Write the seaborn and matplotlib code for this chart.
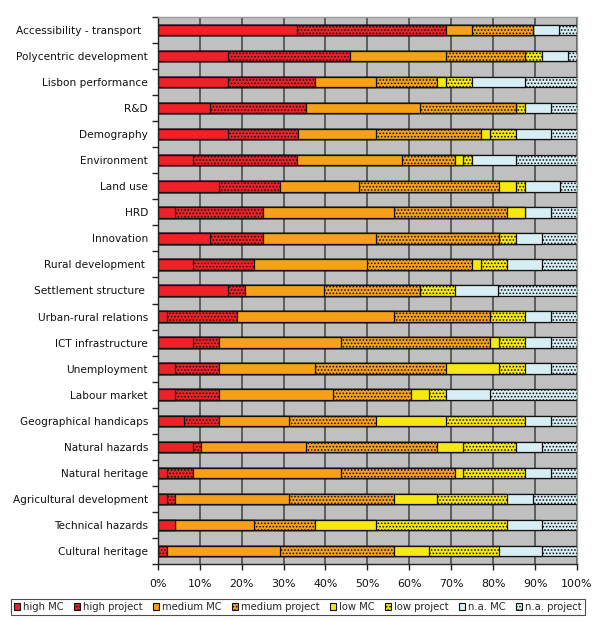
import numpy as np
import pandas as pd
import matplotlib
matplotlib.use("Agg")
import matplotlib.pyplot as plt
from matplotlib.patches import Patch
import seaborn as sns

categories = ["Accessibility - transport  ", "Polycentric development", "Lisbon performance",
              "R&D", "Demography", "Environment", "Land use", "HRD", "Innovation",
              "Rural development ", "Settlement structure ", "Urban-rural relations",
              "ICT infrastructure", "Unemployment", "Labour market", "Geographical handicaps",
              "Natural hazards", "Natural heritage", "Agricultural development",
              "Technical hazards", "Cultural heritage"]

series_names = ["high MC", "high project", "medium MC", "medium project",
                "low MC", "low project", "n.a. MC", "n.a. project"]

high_mc      = [33.3, 16.7, 16.7, 12.5, 16.7, 8.3, 14.6, 4.2, 12.5, 8.3, 16.7, 2.1, 8.3, 4.2, 4.2, 6.2, 8.3, 2.1, 2.1, 4.2, 0.0]
high_project = [35.4, 29.2, 20.8, 22.9, 16.7, 25.0, 14.6, 20.8, 12.5, 14.6, 4.2, 16.7, 6.3, 10.4, 10.4, 8.3, 2.1, 6.2, 2.1, 0.0, 2.1]
medium_mc    = [6.2, 22.9, 14.6, 27.1, 18.7, 25.0, 18.8, 31.3, 27.1, 27.1, 18.7, 37.5, 29.2, 22.9, 27.1, 16.7, 25.0, 35.4, 27.1, 18.7, 27.1]
medium_proj  = [14.6, 18.7, 14.6, 22.9, 25.0, 12.5, 33.3, 27.1, 29.2, 25.0, 22.9, 22.9, 35.4, 31.3, 18.7, 20.8, 31.3, 27.1, 25.0, 14.6, 27.1]
low_mc       = [0.0, 0.0, 2.1, 0.0, 2.1, 2.1, 4.2, 4.1, 0.0, 2.1, 0.0, 0.0, 2.1, 12.5, 4.2, 16.7, 6.2, 2.1, 10.4, 14.6, 8.3]
low_project  = [0.0, 4.2, 6.2, 2.1, 6.3, 2.1, 2.1, 0.0, 4.2, 6.2, 8.3, 8.3, 6.2, 6.2, 4.2, 18.8, 12.5, 14.6, 16.7, 31.3, 16.7]
na_mc        = [6.3, 6.2, 12.5, 6.2, 8.3, 10.4, 8.3, 6.2, 6.2, 8.4, 10.4, 6.2, 6.3, 6.3, 10.4, 6.2, 6.3, 6.3, 6.2, 8.3, 10.4]
na_project   = [4.2, 2.1, 12.5, 6.3, 6.2, 14.6, 4.1, 6.3, 8.3, 8.3, 18.8, 6.3, 6.2, 6.2, 20.8, 6.3, 8.3, 6.2, 10.4, 8.3, 8.3]

x_tick_labels = ["0%", "10%", "20%", "30%", "40%", "50%", "60%", "70%", "80%", "90%", "100%"]

series = [high_mc, high_project, medium_mc, medium_proj, low_mc, low_project, na_mc, na_project]
colors = ["#EE2226", "#EE2226", "#F7A11B", "#F7A11B", "#F6E812", "#F6E812", "#D7EEF4", "#D7EEF4"]
hatches = [None, ".....", None, ".....", None, ".....", None, "....."]

sns.set_theme(style="white")
plt.rcParams["font.family"] = ["DejaVu Sans"]
plt.rcParams["hatch.linewidth"] = 0.75

fig = plt.figure(figsize=(5.92, 6.19), dpi=100)
ax = fig.add_axes([0.2664, 0.0889, 0.7083, 0.8836])
ax.set_facecolor("#C0C0C0")

vals = np.array(series, dtype=float)
cum = np.cumsum(vals, axis=0)

for i in range(len(series) - 1, -1, -1):
    df = pd.DataFrame({"cat": categories, "val": cum[i]})
    sns.barplot(data=df, x="val", y="cat", orient="h", color=colors[i],
                saturation=1, width=0.4, edgecolor="#111111", linewidth=0.9,
                hatch=hatches[i], ax=ax, errorbar=None)

ax.set_xlim(0, 100)
ax.set_ylim(len(categories) - 0.5, -0.5)
ax.set_xticks(np.arange(0, 101, 10))
ax.set_xticklabels(x_tick_labels, fontsize=7.9)
ax.set_xlabel("")
ax.set_ylabel("")
ax.set_axisbelow(True)
ax.grid(axis="x", color="#555555", linewidth=1.3)
ax.grid(axis="y", visible=False)

ax.tick_params(axis="y", which="major", length=0, pad=7, labelsize=7.6, labelcolor="#111111")
ax.set_yticks(np.arange(-0.5, len(categories), 1.0), minor=True)
ax.tick_params(axis="y", which="minor", length=4, width=1, color="#222222", left=True, direction="out")
ax.tick_params(axis="x", which="major", length=4, width=1, color="#222222", bottom=True,
               direction="out", pad=7, labelcolor="#111111")

for s in ["left", "bottom"]:
    ax.spines[s].set_color("#222222")
    ax.spines[s].set_linewidth(1)
for s in ["top", "right"]:
    ax.spines[s].set_color("#9A9A9A")
    ax.spines[s].set_linewidth(1)

handles = [Patch(facecolor=colors[i], edgecolor="#111111", hatch=hatches[i], linewidth=0.8,
                 label=series_names[i]) for i in range(len(series))]
leg = fig.legend(handles=handles, loc="center", bbox_to_anchor=(0.503, 0.0195), ncol=8,
                 fontsize=7.2, frameon=True, fancybox=False, handlelength=0.6, handleheight=0.6,
                 handletextpad=0.3, columnspacing=1.05, borderpad=0.3, borderaxespad=0)
leg.get_frame().set_edgecolor("#222222")
leg.get_frame().set_linewidth(0.8)

fig.savefig("out.png", dpi=100, facecolor="white")
